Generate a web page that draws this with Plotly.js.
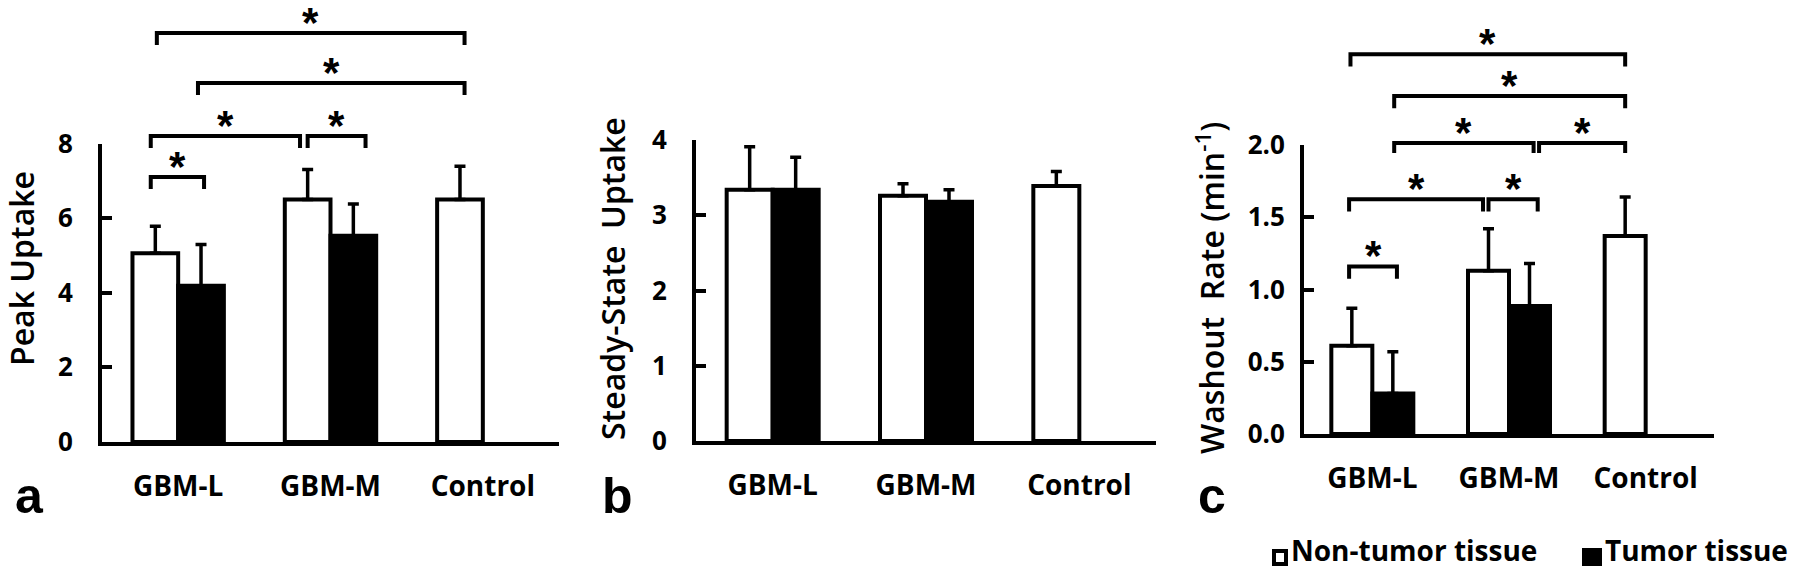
<!DOCTYPE html>
<html><head><meta charset="utf-8">
<script src="https://cdn.plot.ly/plotly-3.0.1.min.js"></script>
<style>html,body{margin:0;padding:0;background:#fff}</style>
</head><body><div id="chart" style="width:1800px;height:570px"></div>
<script>
// ---------- data ----------
const categories = ['GBM-L', 'GBM-M', 'Control'];
const seriesNames = ['Non-tumor tissue', 'Tumor tissue'];

// (a) Peak uptake
const peakNonTumor   = [5.06, 6.50, 6.50];
const peakNonTumorSD = [0.72, 0.80, 0.89];
const peakTumor      = [4.19, 5.53, null];
const peakTumorSD    = [1.10, 0.85, null];

// (b) Steady-state uptake
const steadyNonTumor   = [3.34, 3.26, 3.39];
const steadyNonTumorSD = [0.57, 0.16, 0.19];
const steadyTumor      = [3.34, 3.18, null];
const steadyTumorSD    = [0.43, 0.16, null];

// (c) Washout rate
const washNonTumor   = [0.61, 1.13, 1.37];
const washNonTumorSD = [0.26, 0.29, 0.27];
const washTumor      = [0.28, 0.885, null];
const washTumorSD    = [0.29, 0.295, null];

// axis titles
const yTitles = ['Peak Uptake', 'Steady-State\u00a0 Uptake', 'Washout\u00a0 Rate (min<sup>-1</sup>)'];

// ---------- helpers ----------
const W = 1800, H = 570;
const px = x => x / W;
const py = y => 1 - y / H;
const FONT = 'Open Sans, Lato, sans-serif';
const STARFONT = 'Liberation Sans, Arial, sans-serif';

function barTrace(y, sd, name, fill, xa, ya) {
  return {
    type: 'bar', x: categories, y: y, name: name,
    xaxis: xa, yaxis: ya,
    marker: {color: fill, line: {color: '#000', width: 4}},
    error_y: {type: 'data', symmetric: false, array: sd,
              arrayminus: sd.map(() => 0), color: '#000', thickness: 3.5, width: 5.5},
    showlegend: false, hoverinfo: 'skip'
  };
}

const data = [
  barTrace(peakNonTumor, peakNonTumorSD, seriesNames[0], '#fff', 'x', 'y'),
  barTrace(peakTumor, peakTumorSD, seriesNames[1], '#000', 'x', 'y'),
  barTrace(steadyNonTumor, steadyNonTumorSD, seriesNames[0], '#fff', 'x2', 'y2'),
  barTrace(steadyTumor, steadyTumorSD, seriesNames[1], '#000', 'x2', 'y2'),
  barTrace(washNonTumor, washNonTumorSD, seriesNames[0], '#fff', 'x3', 'y3'),
  barTrace(washTumor, washTumorSD, seriesNames[1], '#000', 'x3', 'y3')
];

function xAxis(domain, anchor) {
  return {
    domain: domain, anchor: anchor, type: 'category', range: [-0.5, 2.5],
    showline: true, linewidth: 4, linecolor: '#000', ticks: '',
    showgrid: false, zeroline: false, fixedrange: true,
    tickfont: {family: FONT, size: 28, color: '#000', weight: 700},
    ticklabelstandoff: 16
  };
}
function yAxis(domain, anchor, range, dtick, fmt, standoffLbl) {
  return {
    domain: domain, anchor: anchor, range: range, dtick: dtick, tick0: 0,
    tickformat: fmt,
    showline: true, linewidth: 4, linecolor: '#000',
    ticks: 'inside', ticklen: 10, tickwidth: 4, tickcolor: '#000',
    showgrid: false, zeroline: false, fixedrange: true,
    tickfont: {family: FONT, size: 26, color: '#000', weight: 700},
    ticklabelstandoff: standoffLbl
  };
}

// significance brackets: [x0, x1, level, leg] in category / data units
const bracketsA = [
  [-0.18, 0.17, 7.10, 0.32],
  [-0.18, 0.80, 8.20, 0.32],
  [ 0.85, 1.23, 8.20, 0.32],
  [ 0.13, 1.88, 9.62, 0.32],
  [-0.14, 1.88, 10.96, 0.32]
];
const bracketsC = [
  [-0.17, 0.18, 1.16, 0.085],
  [-0.17, 0.81, 1.624, 0.085],
  [ 0.85, 1.21, 1.624, 0.085],
  [ 0.16, 1.18, 2.014, 0.07],
  [ 1.22, 1.85, 2.014, 0.07],
  [ 0.16, 1.85, 2.339, 0.085],
  [-0.16, 1.85, 2.628, 0.085]
];

const shapes = [], annotations = [];
function addBrackets(list, xref, yref, ymax) {
  list.forEach(([x0, x1, lev, leg]) => {
    const yt = lev / ymax, yb = (lev - leg) / ymax;
    shapes.push({type: 'path', xref: xref, yref: yref + ' domain',
      path: `M${x0},${yb} L${x0},${yt} L${x1},${yt} L${x1},${yb}`,
      line: {color: '#000', width: 4}});
    annotations.push({xref: xref, yref: yref + ' domain', x: (x0 + x1) / 2, y: yt,
      text: '*', showarrow: false, yanchor: 'bottom', yshift: -14, borderpad: 0,
      font: {family: STARFONT, size: 42, color: '#000', weight: 700}});
  });
}
addBrackets(bracketsA, 'x', 'y', 8);
addBrackets(bracketsC, 'x3', 'y3', 2);

// y-axis titles (placed as rotated annotations to match the reference offsets)
[[yTitles[0], 21, 269], [yTitles[1], 612, 279], [yTitles[2], 1210, 288]].forEach(([t, x, y]) => {
  annotations.push({xref: 'paper', yref: 'paper', x: px(x), y: py(y),
    xanchor: 'center', yanchor: 'middle', textangle: -90, text: t, showarrow: false,
    borderpad: 0, font: {family: FONT, size: 32, color: '#000', weight: 600}});
});

// panel letters
[['a', 13], ['b', 600], ['c', 1196]].forEach(([t, x]) => {
  annotations.push({xref: 'paper', yref: 'paper', x: px(x), y: py(514),
    xanchor: 'left', yanchor: 'bottom', yshift: -12, text: t, showarrow: false,
    font: {family: 'Liberation Sans, Arial, sans-serif', size: 50, color: '#000', weight: 700}});
});

// legend (manual)
shapes.push({type: 'rect', xref: 'paper', yref: 'paper',
  x0: px(1274), x1: px(1286), y0: py(564), y1: py(551),
  fillcolor: '#fff', line: {color: '#000', width: 4}});
shapes.push({type: 'rect', xref: 'paper', yref: 'paper',
  x0: px(1582), x1: px(1602), y0: py(566), y1: py(548),
  fillcolor: '#000', line: {color: '#000', width: 0}});
annotations.push({xref: 'paper', yref: 'paper', x: px(1290), y: 0,
  xanchor: 'left', yanchor: 'bottom', text: seriesNames[0], showarrow: false, borderpad: 0,
  font: {family: FONT, size: 28, color: '#000', weight: 700}});
annotations.push({xref: 'paper', yref: 'paper', x: px(1604), y: 0,
  xanchor: 'left', yanchor: 'bottom', text: seriesNames[1], showarrow: false, borderpad: 0,
  font: {family: FONT, size: 28, color: '#000', weight: 700}});

const layout = {
  width: W, height: H,
  margin: {l: 0, r: 0, t: 0, b: 0},
  paper_bgcolor: '#fff', plot_bgcolor: '#fff',
  barmode: 'group', bargap: 0.4, bargroupgap: 0,
  showlegend: false,
  font: {family: FONT, color: '#000'},
  xaxis:  xAxis([px(102), px(559)], 'y'),
  xaxis2: xAxis([px(696), px(1156)], 'y2'),
  xaxis3: xAxis([px(1304), px(1714)], 'y3'),
  yaxis:  yAxis([py(442), py(143.5)], 'x', [0, 8], 2, 'd', 20),
  yaxis2: yAxis([py(441), py(140)], 'x2', [0, 4], 1, 'd', 20),
  yaxis3: yAxis([py(434), py(145)], 'x3', [0, 2], 0.5, '.1f', 10),
  shapes: shapes,
  annotations: annotations
};

Plotly.newPlot('chart', data, layout, {staticPlot: true, displayModeBar: false});
</script>
</body></html>
